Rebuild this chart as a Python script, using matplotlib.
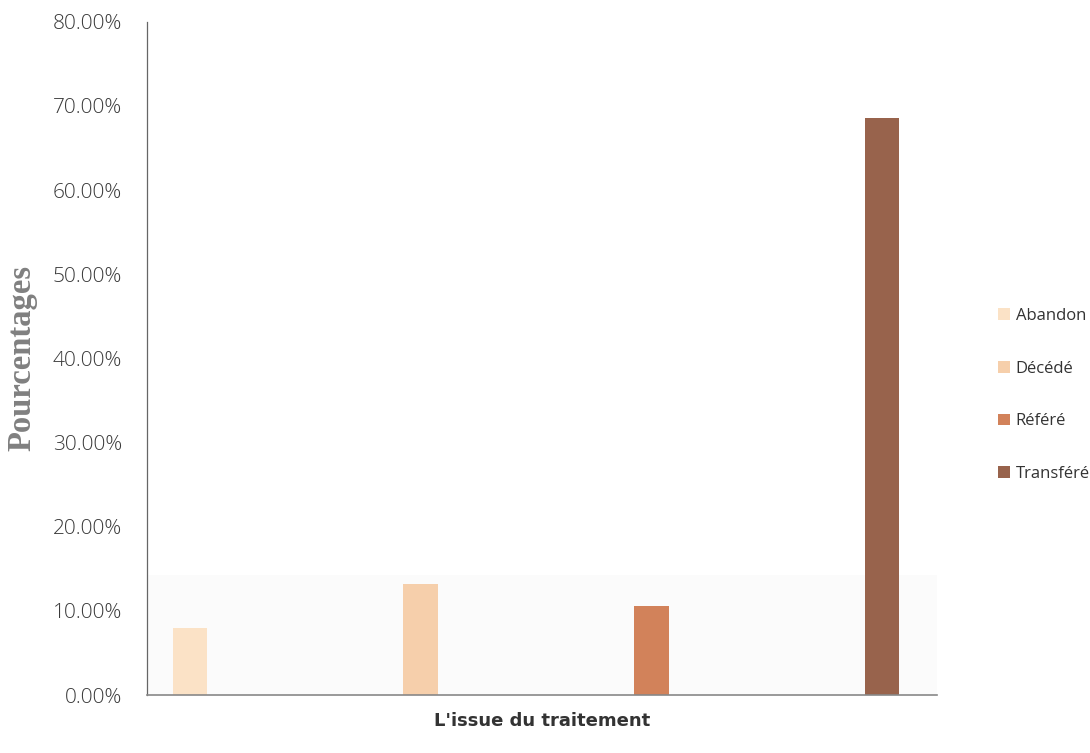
import numpy as np
import matplotlib
matplotlib.use('Agg')
from matplotlib import pyplot as plt
from matplotlib.ticker import FuncFormatter

# issue du traitement, en pourcentage des patients
categories=['Abandon','Décédé','Référé','Transféré']
values=[8.0,13.2,10.6,68.6]
colors=['#fbe2c6','#f6cfab','#d2825a','#98634c']
yticks=[0,10,20,30,40,50,60,70,80]

fig=plt.figure(figsize=[10.9,7.53],dpi=100)
ax=fig.add_axes([0.135,0.077,0.725,0.894])

pos=np.arange(len(categories))
# faint band behind the low bars
ax.axhspan(0,14.3,color='#fbfbfb',zorder=0,lw=0)
for i,(name,val,col) in enumerate(zip(categories,values,colors)):
    ax.bar(pos[i],val,width=0.15,color=col,label=name,zorder=2)

ax.set_xlim(-0.186,3.24)
ax.set_ylim(0,80)
ax.set_yticks(yticks)
ax.yaxis.set_major_formatter(FuncFormatter(lambda v,p:'{:.2f}%'.format(v)))
ax.set_xticks([])
ax.tick_params(axis='y',length=0,pad=18,labelsize=15,labelcolor='#3a3a3a')
for lab in ax.get_yticklabels():
    lab.set_fontfamily('Open Sans')
    lab.set_fontweight('light')

for s in ['top','right']:
    ax.spines[s].set_visible(False)
ax.spines['left'].set_color('#666666')
ax.spines['left'].set_linewidth(0.9)
ax.spines['bottom'].set_color('#888888')
ax.spines['bottom'].set_linewidth(1.2)

ax.set_ylabel('Pourcentages',fontfamily='Liberation Serif',fontweight='bold',
              fontsize=23.5,color='#808080')
ax.yaxis.set_label_coords(-0.139,0.5)
ax.set_xlabel("L'issue du traitement",fontfamily='DejaVu Sans',
              fontweight='bold',fontsize=13,color='#333333',labelpad=12)

leg=ax.legend(loc='center left',bbox_to_anchor=(998/1090,1-395/753),
              bbox_transform=fig.transFigure,frameon=False,
              borderpad=0,borderaxespad=0,
              handlelength=0.7,handleheight=0.7,handletextpad=0.35,
              labelspacing=2.2,prop={'family':'Open Sans','size':12})
for t in leg.get_texts():
    t.set_color('#333333')

fig.savefig('out.png',dpi=100)
